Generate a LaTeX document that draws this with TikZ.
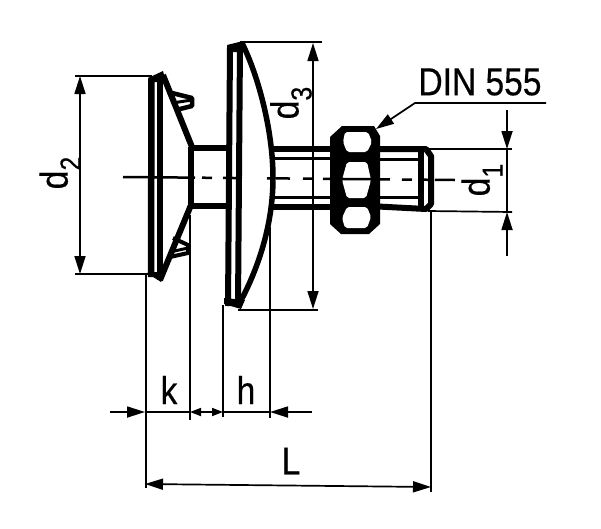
\documentclass[tikz,border=0pt]{standalone}
\usepackage{fontspec}
\newfontfamily\dimfont[FakeStretch=0.86,FakeBold=0.4]{Liberation Sans}
\usetikzlibrary{arrows.meta,positioning}
\newcommand{\dsub}[1]{d\raisebox{-13pt}{\fontsize{29}{29}\selectfont #1}}
\tikzset{
  heavy/.style={draw=black, line width=6pt, line join=round},
  medium/.style={draw=black, line width=3pt},
  extline/.style={draw=black, line width=1.7pt},
  dimline/.style={draw=black, line width=1.7pt, arrows={-Triangle[length=18pt,width=11pt]}},
  dimsmall/.style={draw=black, line width=1.7pt, arrows={-Triangle[length=11pt,width=8pt]}},
  dimboth/.style={dimline, arrows={Triangle[length=18pt,width=11pt]-Triangle[length=18pt,width=11pt]}},
  lbl/.style={inner sep=0pt, font=\dimfont\fontsize{39}{39}\selectfont},
  hole/.style={fill=white, rounded corners=2pt},
}
\begin{document}
\begin{tikzpicture}[x=1pt,y=-1pt]
  \useasboundingbox (0,0) rectangle (601,528);

  % extension lines
  \draw[extline] (75,76) -- (152,76);
  \draw[extline] (75,274) -- (150,274);
  \draw[extline] (240,42) -- (322,42);
  \draw[extline] (238,310) -- (318,310);
  \draw[extline] (428,149) -- (512,149);
  \draw[extline] (428,211) -- (512,212);
  \coordinate (extk1) at (146,274);
  \coordinate (extk2) at (190,215);
  \coordinate (exth1) at (223,305);
  \coordinate (exth2) at (270,227);
  \coordinate (extl2) at (431,212);
  \coordinate[below=214pt of extk1] (dimL1);
  \coordinate[below=205pt of extk2] (dimk2);
  \coordinate[below=112pt of exth1] (dimh1);
  \coordinate[below=191pt of exth2] (dimh2);
  \coordinate[below=280pt of extl2] (dimL2);
  \draw[extline] (extk1) -- (dimL1);
  \draw[extline] (extk2) -- (dimk2);
  \draw[extline] (exth1) -- (dimh1);
  \draw[extline] (exth2) -- (dimh2);
  \draw[extline] (extl2) -- (dimL2);

  % left head
  \draw[heavy,line width=6.5pt] (151.5,78) -- (151,277);
  \draw[heavy] (160,74) -- (160,280);
  \draw[heavy,line width=4.5pt] (168,92) -- (192,98) -- (192,106) -- (176,110);
  \draw[medium] (172,103) -- (192,100);
  \draw[heavy,line width=4pt] (173,238) -- (188,245) -- (188,253) -- (170,257);
  \draw[medium] (170,252) -- (188,248);
  \fill (148,78) -- (163,71) -- (166,82) -- (150,82) -- cycle;
  \fill (147,273) -- (161,282) -- (166,272) -- (150,272) -- cycle;
  \draw[heavy] (163,75) -- (192,147);
  \draw[heavy] (191,205) -- (160,280);
  \draw[heavy] (191,147) -- (191,205);
  \draw[heavy] (191,147.5) -- (228,147.5);
  \draw[heavy] (191,205.5) -- (228,205.5);

  % large head
  \draw[heavy] (230,47) -- (228,306);
  \draw[heavy] (240,44) -- (238,306);
  \fill (227,45) -- (243,41) -- (246,52) -- (227,52) -- cycle;
  \fill (224,304) -- (241,309) -- (245,300) -- (224,298) -- cycle;
  \draw[heavy,line width=5.5pt] (242,43) .. controls (258,75) and (273,130) .. (273,178)
    .. controls (273,225) and (258,270) .. (238,306);

  % shaft and thread
  \draw[heavy] (272,149) -- (332,149);
  \draw[heavy] (272,206.5) -- (332,206.5);
  \draw[medium] (272,158.5) -- (332,158.5);
  \draw[medium] (272,197.5) -- (332,197.5);
  \draw[heavy] (378,149) -- (426,149) -- (431,156) -- (431,204) -- (426,209) -- (378,206.5);
  \draw[medium] (378,159) -- (420,159);
  \draw[medium] (378,197.5) -- (420,197.5);
  \draw[heavy] (420.5,150) -- (420.5,207);

  % nut
  \fill (342,126) -- (374,126) -- (380,136) -- (380,224) -- (369,234) -- (341,234) -- (330,224) -- (330,137) -- cycle;
  \fill[hole] (345,132) -- (368,132) -- (372,142) -- (367,152) -- (347,152) -- (343,142) -- cycle;
  \fill[hole] (347,162) -- (367,162) -- (371,180) -- (366,198) -- (347,198) -- (342,180) -- cycle;
  \fill[hole] (347,207) -- (367,207) -- (371,217) -- (367,228) -- (345,228) -- (342,218) -- cycle;

  % centre line
  \draw[draw=black,line width=2.5pt,dash pattern=on 72pt off 7pt on 10pt off 11pt on 19pt off 25pt on 5pt off 4pt on 14pt off 13pt on 9pt off 11pt on 7pt off 10pt on 50pt off 12pt on 10pt off 11pt on 7pt off 5pt on 20pt]
    (123,177) -- (455,180);

  % dimensions
  \draw[dimboth] (80,76) -- (80,274);
  \draw[dimboth] (313,43) -- (313,309);
  \coordinate (dimd1a) at (507,110);
  \coordinate (dimd1b) at (507,149);
  \coordinate (dimd1c) at (507,212);
  \coordinate (dimd1d) at (507,256);
  \draw[dimline] (dimd1a) -- (dimd1b);
  \draw[dimline] (dimd1d) -- (dimd1c);
  \draw[extline] (dimd1b) -- (dimd1c);

  \coordinate (dimk0) at (110,412);
  \coordinate[right=35pt of dimk0] (dimk1);
  \coordinate (dimh3) at (312,412);
  \coordinate (dimkh) at (205,412);
  \draw[dimline] (dimk0) -- (dimk1);
  \draw[extline] (dimk1) -- (dimk2 |- dimk1);
  \draw[dimsmall] (dimkh) -- (dimk2 |- dimk1);
  \draw[dimsmall] (dimkh) -- (dimh1 |- dimk1);
  \draw[extline] (dimh1 |- dimk1) -- (dimh2 |- dimk1);
  \draw[dimline] (dimh3) -- (dimh2 |- dimk1);
  \draw[dimboth] (145,484) -- (431,487);

  % labels
  \node[lbl,rotate=90] (lbld2) at (60,173) {\dsub{2}};
  \node[lbl,rotate=90] (lbld3) at (291,103) {\dsub{3}};
  \node[lbl,rotate=90] (lbld1) at (482,180) {\dsub{1}};
  \node[lbl] (lblk) at (169,390) {k};
  \node[lbl] (lblh) at (246,390) {h};
  \node[lbl] (lbll) at (291,461) {L};
  \node[lbl] (lbldin) at (480,82) {DIN 555};

  % leader
  \coordinate (leader1) at (546,103);
  \coordinate (leader2) at (415,103);
  \coordinate (leader3) at (376,129);
  \draw[dimline] (leader1) -- (leader2) -- (leader3);
\end{tikzpicture}
\end{document}
